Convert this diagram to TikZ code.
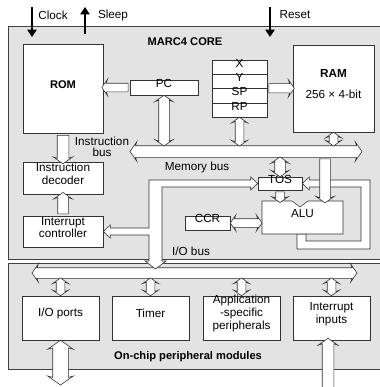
\documentclass[tikz,border=0pt]{standalone}
\usepackage{fontspec}
\setmainfont{Liberation Sans}
\usetikzlibrary{positioning,arrows.meta,fit,calc,shapes.arrows}

% hollow bus arrow laid between two points
\newcommand\busarrow[3]{%
  \path let \p1=(#2), \p2=(#3) in
    node[#1, minimum height={veclen(\x2-\x1,\y2-\y1)},
      rotate={atan2(\y2-\y1,\x2-\x1)}] at ($(\p1)!0.5!(\p2)$) {};}

\begin{document}
\begin{tikzpicture}[x=0.3mm, y=-0.3mm,
  font=\fontsize{10}{11}\selectfont,
  grp/.style={draw=black!75, fill=black!11, line width=0.5pt, inner sep=0pt},
  blk/.style={draw=black!80, fill=white, line width=0.5pt, inner sep=0pt, align=center},
  hdr/.style={font=\fontsize{9.5}{11}\selectfont\bfseries},
  bus1/.style={single arrow, draw=black!80, fill=white, line width=0.5pt,
    inner xsep=0pt, inner ysep=#1, outer sep=0pt, minimum width=0pt,
    single arrow head extend=1.2mm, single arrow tip angle=110, single arrow head indent=0.4mm},
  bus1/.default=1.5mm,
  bus2/.style={double arrow, draw=black!80, fill=white, line width=0.5pt,
    inner xsep=0pt, inner ysep=#1, outer sep=0pt, minimum width=0pt,
    double arrow head extend=1.1mm, double arrow tip angle=110, double arrow head indent=0.4mm},
  bus2/.default=1.5mm,
  busline/.style={draw=black!80, fill=white, line width=0.5pt},
  sig/.style={-{Triangle[length=2.2mm, width=2.8mm]}, line width=1.3pt}]
\useasboundingbox (0,0) rectangle (379,387);
% core and peripheral frames
\node[grp, fit={(8,26)(381,259)}] (core) {};
\node[grp, fit={(8,263)(381,369)}] (per) {};
\node[hdr] (coret) at (185,42) {MARC4 CORE};
\node[hdr] (pert) at (188,357) {On-chip peripheral modules};
% core blocks
\node[blk, hdr, fit={(23,44)(103,133)}] (rom) {ROM};
\node[blk, fit={(293,45)(374,132)}] (ram) {\textbf{RAM}\\[7pt]256 × 4-bit};
\node[blk, fit={(130,80)(198,95)}] (pc) {PC};
\node[blk, fit={(212,60)(267,74)}] (regx) {X};
\node[blk, fit={(212,74)(267,88)}] (regy) {Y};
\node[blk, fit={(212,88)(267,103)}] (regsp) {SP};
\node[blk, fit={(212,103)(267,117)}] (regrp) {RP};
\node[blk, fit={(23,162)(103,194)}] (dec) {Instruction\\decoder};
\node[blk, fit={(23,216)(103,247)}] (intc) {Interrupt\\controller};
\node[blk, fit={(258,177)(302,190)}] (tos) {TOS};
\node[blk, fit={(185,216)(230,230)}] (ccr) {CCR};
% peripheral blocks
\node[blk, fit={(22,296)(99,340)}] (io) {I/O ports};
\node[blk, fit={(112,296)(189,340)}] (tim) {Timer};
\node[blk, fit={(203,296)(280,340)}] (app) {Application\\-specific\\peripherals};
\node[blk, fit={(293,296)(370,340)}] (irq) {Interrupt\\inputs};
% bus labels
\node[align=center, font=\fontsize{10}{9}\selectfont] (ibtxt) at (102,147) {Instruction\\bus};
\node (mbtxt) at (197,167) {Memory bus};
\node (iotxt) at (191,251) {I/O bus};
% memory bus
\coordinate (mbl) at (130,151.5);
\coordinate (mbr) at (362,151.5);
\coordinate (mbt) at (0,146);
\coordinate (mbb) at (0,157);
\busarrow{bus2=1.65mm, double arrow head extend=1.2mm}{mbl}{mbr}
% peripheral bus
\coordinate (pbl) at (32,273);
\coordinate (pbr) at (357,273);
\coordinate (pbb) at (0,278);
\busarrow{bus2}{pbl}{pbr}
% ALU with notch
\coordinate (alunw) at (262,201);
\coordinate (aluse) at (343,234);
\coordinate (lpo) at (370,249);
\coordinate (lpi) at (361,241);
\draw[busline] (tos.east) -- ++(7,-6.5) -- ++(0,3) -- ($(lpo |- tos.east)+(0,-3.5)$)
  -- (lpo) -- ($(lpo -| alunw)+(35,0)$) -- ($(alunw |- aluse)+(35,0)$)
  -- ($(alunw |- aluse)+(44,0)$) -- ($(lpi -| alunw)+(44,0)$) -- (lpi)
  -- ($(lpi |- tos.east)+(0,3.5)$) -- ($(tos.east)+(7,3.5)$) -- ++(0,3) -- cycle;
\draw[busline] (alunw) -- ($(alunw)+(30,0)$) -- ($(alunw)+(38,6)$) -- ($(alunw)+(46,0)$)
  -- (alunw -| aluse) -- (aluse) -- (alunw |- aluse) -- cycle;
\node[fit=(alunw)(aluse), inner sep=0pt] (alu) {ALU};
% I/O bus
\coordinate (iob) at (149,180);
\coordinate (iobin) at (162,187);
\coordinate (iobtip) at (155.5,269);
\draw[busline] (tos.west) -- ++(-7,-6.5) -- ++(0,3) -- (iob)
  -- ($(iob |- intc.east)+(0,-3.5)$) -- ($(intc.east)+(7,-3.5)$) -- ++(0,-3) -- (intc.east)
  -- ($(intc.east)+(7,6.5)$) -- ++(0,-3) -- ($(iob |- intc.east)+(0,3.5)$)
  -- ($(iob |- iobtip)+(0,-8)$) -- ++(-4,0) -- (iobtip) -- ($(iobtip)+(10.5,-8)$) -- ++(-4,0)
  -- (iobin) -- ($(tos.west)+(-7,3.5)$) -- ++(0,3) -- cycle;
% core links
\busarrow{bus1=1.2mm}{pc.west}{pc.west -| rom.east}
\busarrow{bus2}{pc.south}{pc.south |- mbt}
\busarrow{bus1=1.3mm}{regy.south east}{regy.south east -| ram.west}
\busarrow{bus2=1.2mm}{regrp.south}{regrp.south |- mbt}
\busarrow{bus2=1.2mm}{ram.south}{ram.south |- mbt}
\busarrow{bus2}{mbb -| tos.north}{tos.north}
\busarrow{bus1=1.2mm}{tos.south}{tos.south |- alunw}
\coordinate (alu2) at (325,0);
\busarrow{bus1}{mbb -| alu2}{alunw -| alu2}
\busarrow{bus2=1.2mm}{ccr.east}{ccr.east -| alunw}
\busarrow{bus1=1.65mm}{rom.south}{dec.north}
\busarrow{bus1}{intc.north}{dec.south}
% peripheral links
\busarrow{bus2=1.2mm}{pbb -| io.north}{io.north}
\busarrow{bus2=1.2mm}{pbb -| tim.north}{tim.north}
\busarrow{bus2=1.2mm}{pbb -| app.north}{app.north}
\busarrow{bus2=1.2mm}{pbb -| irq.north}{irq.north}
\coordinate (ioext) at (0,385);
\busarrow{bus2=2.25mm, double arrow head extend=1.5mm}{io.south}{io.south |- ioext}
\coordinate (irqext) at (328,395);
\busarrow{bus1=1.65mm}{irqext}{irqext |- irq.south}
% external signals
\coordinate (clka) at (32,7);
\coordinate (clkb) at (32,37);
\coordinate (slpa) at (85,34);
\coordinate (slpb) at (85,7);
\coordinate (rsta) at (270,7);
\coordinate (rstb) at (270,37);
\draw[sig] (clka) -- (clkb);
\draw[sig] (slpa) -- (slpb);
\draw[sig] (rsta) -- (rstb);
\node (clk) at (53,15) {Clock};
\node (slp) at (113,15) {Sleep};
\node (rst) at (295,15) {Reset};
\end{tikzpicture}
\end{document}
